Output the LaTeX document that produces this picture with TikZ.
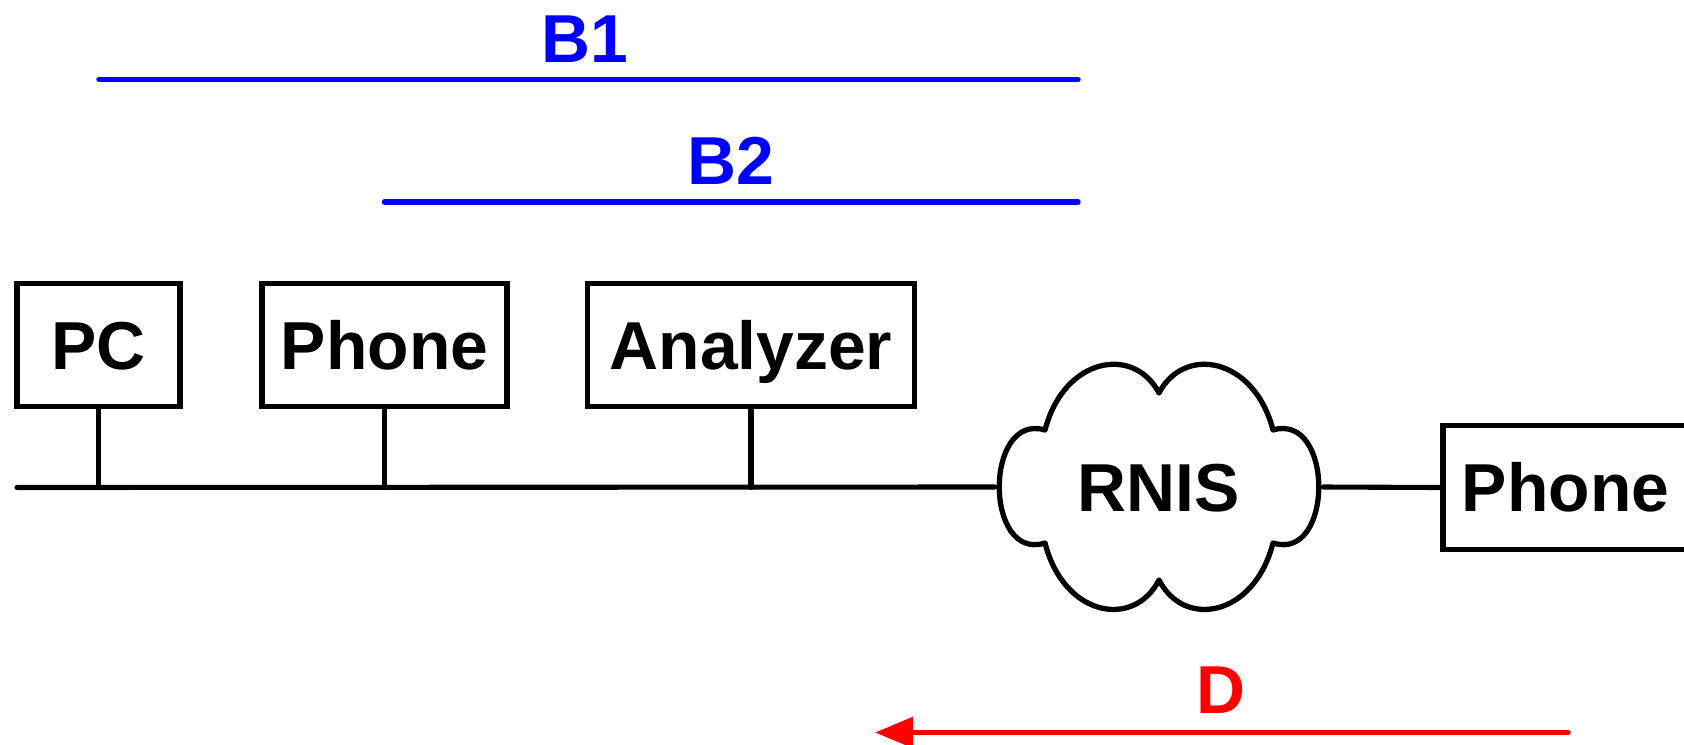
\documentclass[tikz,border=0pt]{standalone}
\usepackage{fontspec}
\setmainfont{Liberation Sans}
\usetikzlibrary{calc,positioning,arrows.meta}

\begin{document}
\begin{tikzpicture}[
  txt/.style={font=\fontsize{19.3}{22}\selectfont\bfseries,text height=13.8pt,text depth=0pt},
  box/.style={txt,draw,line width=1.5pt,minimum height=1.235cm,inner sep=0pt},
  wire/.style={line width=1.45pt,line cap=round},
  span/.style={line width=1.55pt,line cap=round,blue}]
\useasboundingbox (0,0) rectangle (16.84,7.44);
% stations on the bus
\node[box,minimum width=1.63cm]  (pc)    at (0.985,3.99) {PC};
\node[box,minimum width=2.45cm]  (phone) at (3.845,3.99) {Phone};
\node[box,minimum width=3.275cm] (anlz)  at (7.51,3.99)  {Analyzer};
\node[txt,minimum width=3.27cm,minimum height=2.42cm,inner sep=0pt] (rnis) at (11.59,2.57) {RNIS};
\node[box,minimum width=2.45cm]  (phoneb) at (15.655,2.565) {Phone};
% cloud
\begin{scope}[shift={(rnis.center)}]
\draw[line width=1.5pt,line join=round]
  (-1.14,0.57) .. controls (-0.95,1.3) and (-0.25,1.42) .. (0,0.94)
  .. controls (0.25,1.42) and (0.95,1.3) .. (1.14,0.57)
  .. controls (1.75,0.75) and (1.75,-0.75) .. (1.14,-0.56)
  .. controls (0.95,-1.3) and (0.25,-1.42) .. (0,-0.93)
  .. controls (-0.25,-1.42) and (-0.95,-1.3) .. (-1.14,-0.56)
  .. controls (-1.75,-0.75) and (-1.75,0.75) .. cycle;
\end{scope}
% bus
\coordinate (busw) at (0.17,2.565);
\draw[wire] (busw) -- (rnis.west);
\draw[wire] (rnis.east) -- (phoneb.west);
\draw[wire] (pc.south) -- (pc.south |- busw);
\draw[wire] (phone.south) -- (phone.south |- busw);
\draw[wire] (anlz.south) -- (anlz.south |- busw);
% channels
\coordinate (b1s) at (0.99,6.645);
\coordinate (b1e) at (10.78,6.645);
\coordinate (b2s) at (3.845,5.42);
\coordinate (b2e) at (10.78,5.42);
\draw[span] (b1s) -- (b1e);
\draw[span] (b2s) -- (b2e);
\node[txt,blue] (b1) at (5.85,7.06) {B1};
\node[txt,blue] (b2) at (7.31,5.84) {B2};
\coordinate (ds) at (15.68,0.115);
\coordinate (de) at (8.75,0.115);
\draw[line width=1.6pt,line cap=round,red,-{Triangle[length=0.38cm,width=0.3cm]}] (ds) -- (de);
\node[txt,red] (d) at (12.21,0.55) {D};
\end{tikzpicture}
\end{document}
